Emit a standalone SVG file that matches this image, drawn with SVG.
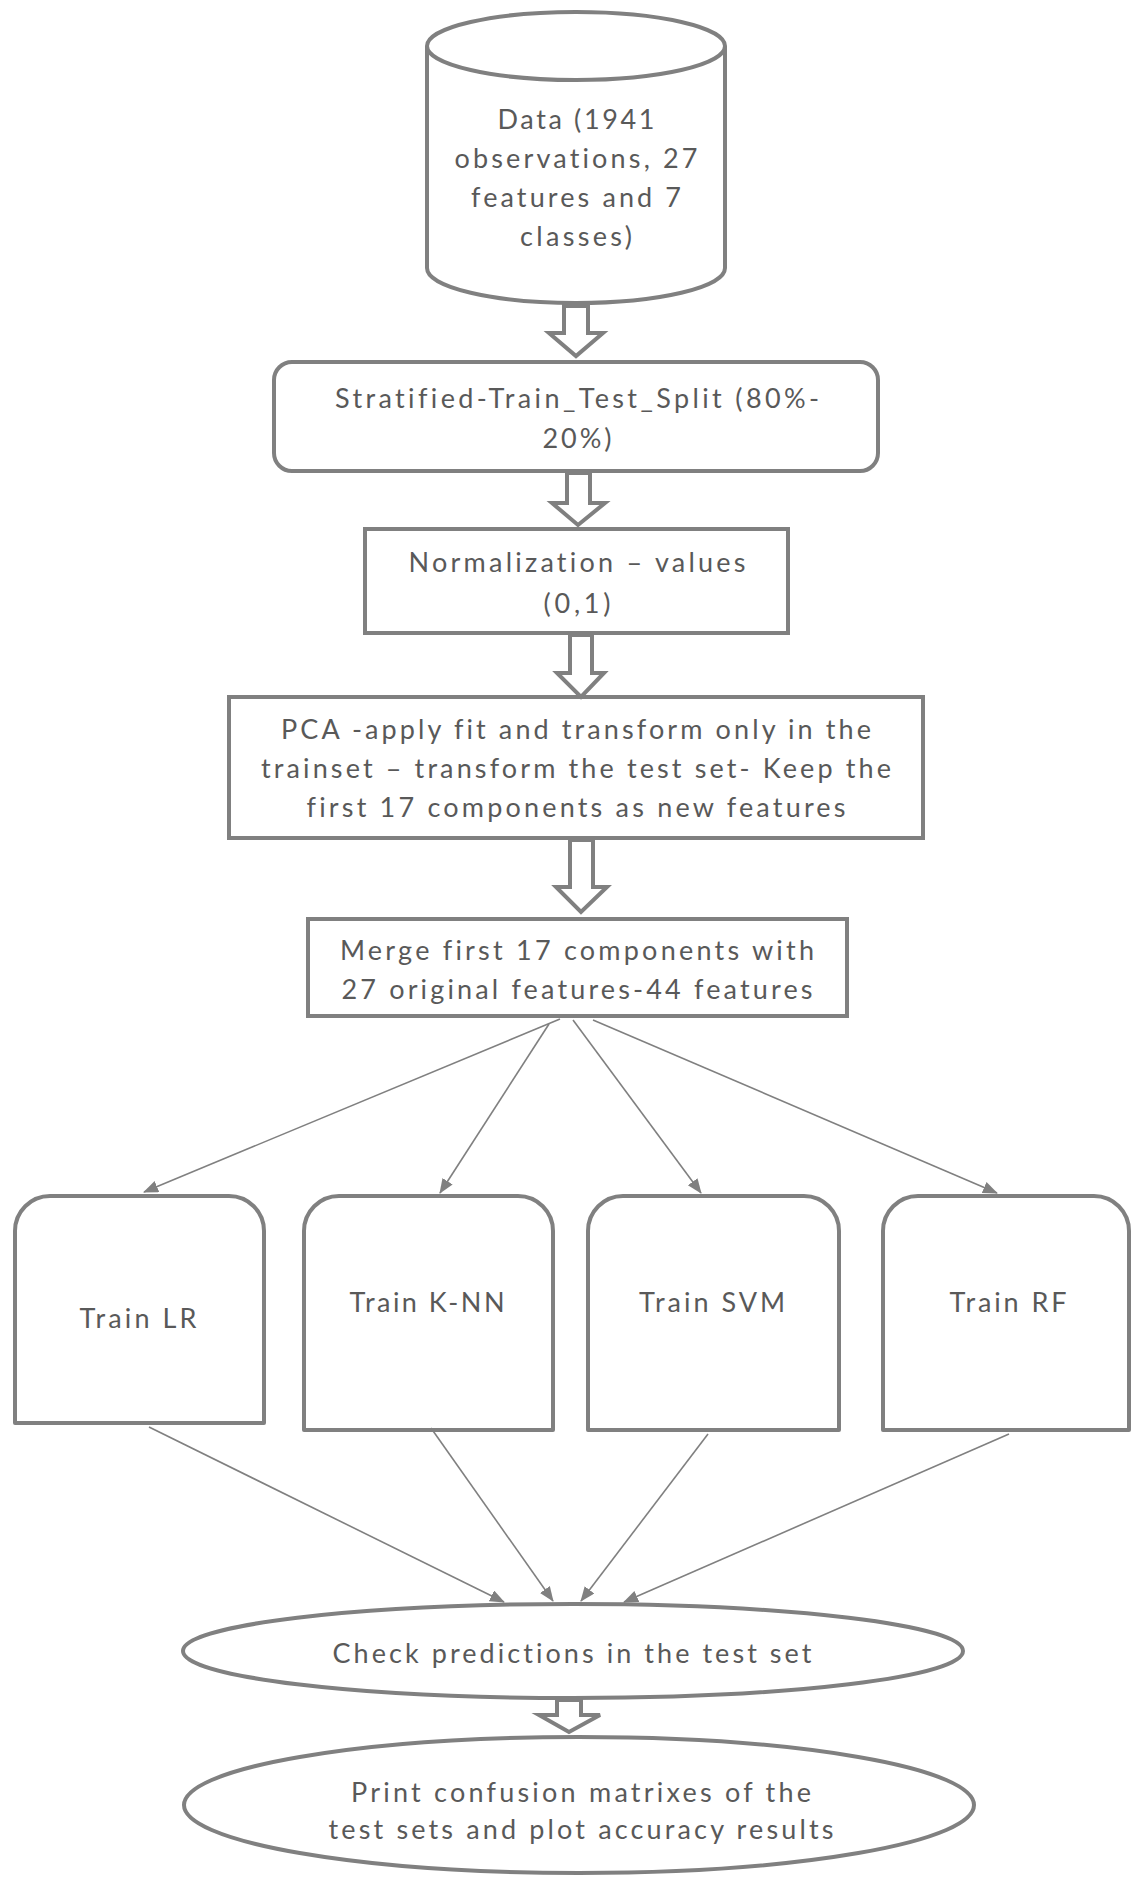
<svg xmlns="http://www.w3.org/2000/svg" width="1133" height="1878" viewBox="0 0 1133 1878">
<defs>
<style>
.shape{fill:#ffffff;stroke:#808080;stroke-width:4;stroke-linejoin:round}
.barrow{fill:#ffffff;stroke:#808080;stroke-width:4;stroke-linejoin:miter}
.conn{stroke:#808080;stroke-width:1.6;fill:none}
.t{font-family:Lato,"Open Sans","Liberation Sans",sans-serif;font-size:27px;fill:#595959;text-anchor:middle;font-variant-ligatures:none;font-feature-settings:"liga" 0}
</style>
<marker id="ah" markerUnits="userSpaceOnUse" markerWidth="16" markerHeight="13" refX="14" refY="6" orient="auto">
<path d="M0,0 L15,6 L0,12 z" fill="#808080"/>
</marker>
</defs>
<rect width="1133" height="1878" fill="#ffffff"/>

<g id="data">
<path class="shape" d="M427 46 L427 268 A149 35 0 0 0 725 268 L725 46"/>
<ellipse class="shape" cx="576" cy="46" rx="149" ry="34"/>
<text class="t" x="576" y="129" textLength="157" lengthAdjust="spacing">Data (1941</text>
<text class="t" x="576" y="168" textLength="243" lengthAdjust="spacing">observations, 27</text>
<text class="t" x="576" y="207" textLength="210" lengthAdjust="spacing">features and 7</text>
<text class="t" x="576" y="246" textLength="112" lengthAdjust="spacing">classes)</text>
</g>

<g id="split">
<rect class="shape" x="274" y="362" width="604" height="109" rx="18"/>
<text class="t" x="577" y="408" textLength="484" lengthAdjust="spacing">Stratified-Train_Test_Split (80%-</text>
<text class="t" x="577" y="448" textLength="69" lengthAdjust="spacing">20%)</text>
</g>

<g id="normalization">
<rect class="shape" x="365" y="529" width="423" height="104" style="stroke-linejoin:miter"/>
<text class="t" x="577" y="572" textLength="337" lengthAdjust="spacing">Normalization – values</text>
<text class="t" x="577" y="613" textLength="67" lengthAdjust="spacing">(0,1)</text>
</g>

<g id="pca">
<rect class="shape" x="229" y="697" width="694" height="141" style="stroke-linejoin:miter"/>
<text class="t" x="576" y="739" textLength="590" lengthAdjust="spacing">PCA -apply fit and transform only in the</text>
<text class="t" x="576" y="778" textLength="630" lengthAdjust="spacing">trainset – transform the test set- Keep the</text>
<text class="t" x="576" y="817" textLength="539" lengthAdjust="spacing">first 17 components as new features</text>
</g>

<g id="merge">
<rect class="shape" x="308" y="919" width="539" height="97" style="stroke-linejoin:miter"/>
<text class="t" x="577" y="960" textLength="474" lengthAdjust="spacing">Merge first 17 components with</text>
<text class="t" x="577" y="999" textLength="471" lengthAdjust="spacing">27 original features-44 features</text>
</g>

<g id="train-lr">
<path class="shape" d="M15 1423 L15 1231 A35 35 0 0 1 50 1196 L229 1196 A35 35 0 0 1 264 1231 L264 1423 Z"/>
<text class="t" x="138" y="1328" textLength="117" lengthAdjust="spacing">Train LR</text>
</g>

<g id="train-knn">
<path class="shape" d="M304 1430 L304 1231 A35 35 0 0 1 339 1196 L518 1196 A35 35 0 0 1 553 1231 L553 1430 Z"/>
<text class="t" x="427" y="1312" textLength="155" lengthAdjust="spacing">Train K-NN</text>
</g>

<g id="train-svm">
<path class="shape" d="M588 1430 L588 1231 A35 35 0 0 1 623 1196 L804 1196 A35 35 0 0 1 839 1231 L839 1430 Z"/>
<text class="t" x="712" y="1312" textLength="146" lengthAdjust="spacing">Train SVM</text>
</g>

<g id="train-rf">
<path class="shape" d="M883 1430 L883 1231 A35 35 0 0 1 918 1196 L1094 1196 A35 35 0 0 1 1129 1231 L1129 1430 Z"/>
<text class="t" x="1008" y="1312" textLength="117" lengthAdjust="spacing">Train RF</text>
</g>

<g id="check">
<ellipse class="shape" cx="573" cy="1651" rx="390" ry="47"/>
<text class="t" x="572" y="1663" textLength="479" lengthAdjust="spacing">Check predictions in the test set</text>
</g>

<g id="print">
<ellipse class="shape" cx="579" cy="1805" rx="395" ry="68"/>
<text class="t" x="581" y="1802" textLength="460" lengthAdjust="spacing">Print confusion matrixes of the</text>
<text class="t" x="581" y="1839" textLength="505" lengthAdjust="spacing">test sets and plot accuracy results</text>
</g>

<g id="connectors">
<polygon class="barrow" points="564,306 588,306 588,333 603,333 576,356 549,333 564,333"/>
<polygon class="barrow" points="567,473 590,473 590,503 605,503 578,525 552,503 567,503"/>
<polygon class="barrow" points="570,635 592,635 592,673 604,673 581,697 557,673 570,673"/>
<polygon class="barrow" points="570,840 593,840 593,887 607,887 581,912 556,887 570,887"/>
<polygon class="barrow" points="557,1700 581,1700 581,1715 600,1715 569,1732 539,1715 557,1715"/>
<line class="conn" x1="560" y1="1019" x2="144" y2="1192" marker-end="url(#ah)"/>
<line class="conn" x1="549" y1="1024" x2="440" y2="1193" marker-end="url(#ah)"/>
<line class="conn" x1="573" y1="1020" x2="701" y2="1193" marker-end="url(#ah)"/>
<line class="conn" x1="593" y1="1020" x2="997" y2="1193" marker-end="url(#ah)"/>
<line class="conn" x1="149" y1="1427" x2="504" y2="1602" marker-end="url(#ah)"/>
<line class="conn" x1="431" y1="1428" x2="553" y2="1601" marker-end="url(#ah)"/>
<line class="conn" x1="708" y1="1434" x2="581" y2="1601" marker-end="url(#ah)"/>
<line class="conn" x1="1009" y1="1434" x2="624" y2="1602" marker-end="url(#ah)"/>
</g>
</svg>
